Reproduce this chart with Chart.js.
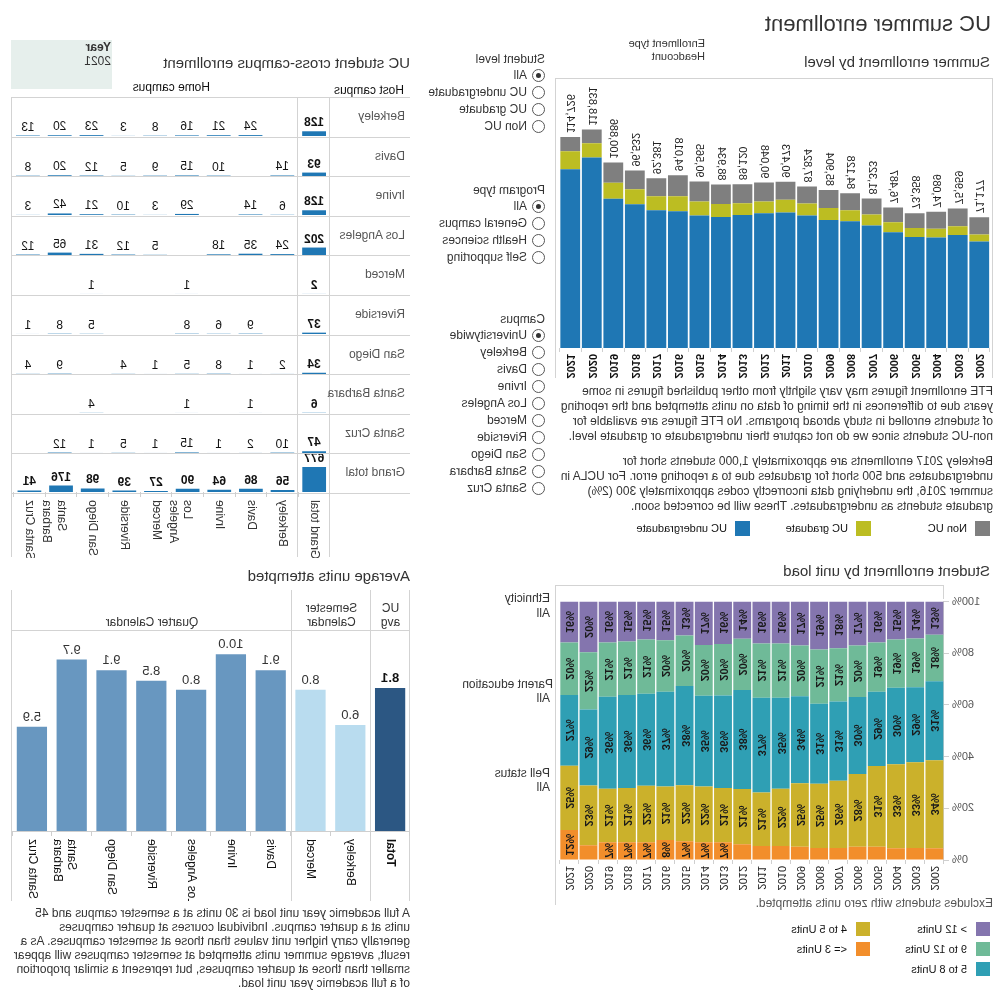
<!DOCTYPE html>
<html>
<head>
<meta charset="utf-8">
<script src="https://cdn.jsdelivr.net/npm/chart.js@4.4.1/dist/chart.umd.min.js"></script>
<style>
  body { margin: 0; background: #fff; font-family: "Liberation Sans", Arial, sans-serif; color: #333; }
  /* the reference is a mirror image of the dashboard, so the whole page is flipped */
  #page { position: relative; width: 1000px; height: 1000px; overflow: hidden; transform: scaleX(-1); }
  .t { position: absolute; white-space: nowrap; }
  .h1 { font-size: 22px; color: #333; }
  .h2 { font-size: 15px; color: #333; line-height: 18px; }
  .s11 { font-size: 11px; line-height: 13px; }
  .s12 { font-size: 12px; line-height: 14px; }
  .note { position: absolute; font-size: 12px; line-height: 15px; color: #333; white-space: nowrap; }
  .line { position: absolute; background: #d3d3d3; }
  .radio { position: absolute; width: 11px; height: 11px; border: 1px solid #555; border-radius: 50%; background: #fff; }
  .radio.on::after { content: ''; position: absolute; left: 3px; top: 3px; width: 5px; height: 5px; border-radius: 50%; background: #333; }
  .sw { position: absolute; width: 15px; height: 15px; }
  canvas { position: absolute; }
</style>
</head>
<body>
<div id="page">
  <div class="t h1" style="left:9px;top:11px">UC summer enrollment</div>
  <div class="t h2" style="left:10px;top:53px">Summer enrollment by level</div>
  <div class="t s11" style="left:295px;top:37px">Enrollment type</div>
  <div class="t s11" style="left:295px;top:50px">Headcount</div>

  <div class="line" style="left:7px;top:78px;width:438px;height:1px"></div>
  <div class="line" style="left:7px;top:78px;width:1px;height:300px"></div>
  <div class="line" style="left:444px;top:78px;width:1px;height:300px"></div>
  <canvas id="levelChart" width="437" height="300" style="left:8px;top:80px"></canvas>

  <div class="note" style="left:7px;top:384px">FTE enrollment figures may vary slightly from other published figures in some<br>years due to differences in the timing of data on units attempted and the reporting<br>of students enrolled in study abroad programs. No FTE figures are available for<br>non-UC students since we do not capture their undergraduate or graduate level.</div>
  <div class="note" style="left:7px;top:454px">Berkeley 2017 enrollments are approximately 1,000 students short for<br>undergraduates and 500 short for graduates due to a reporting error. For UCLA in<br>summer 2016, the underlying data incorrectly codes approximately 300 (2%)<br>graduate students as undergraduates. These will be corrected soon.</div>

  <div class="sw" style="left:10px;top:521px;background:#7f7f7f"></div>
  <div class="t s11" style="left:33px;top:522px;color:#111">Non UC</div>
  <div class="sw" style="left:129px;top:521px;background:#bcbd22"></div>
  <div class="t s11" style="left:152px;top:522px;color:#111">UC graduate</div>
  <div class="sw" style="left:250px;top:521px;background:#1f77b4"></div>
  <div class="t s11" style="left:273px;top:522px;color:#111">UC undergraduate</div>

  <div id="filters"></div>

  <div class="t h2" style="left:10px;top:562px">Student enrollment by unit load</div>
  <div class="line" style="left:56px;top:585px;width:389px;height:1px"></div>
  <div class="line" style="left:444px;top:585px;width:1px;height:320px"></div>
  <div class="line" style="left:56px;top:585px;width:1px;height:14px"></div>
  <canvas id="unitChart" width="446" height="313" style="left:0px;top:592px"></canvas>
  <div class="t s12" style="left:450px;top:591px">Ethnicity</div>
  <div class="t s12" style="left:450px;top:606px">All</div>
  <div class="t s12" style="left:447px;top:677px">Parent education</div>
  <div class="t s12" style="left:450px;top:691px">All</div>
  <div class="t s12" style="left:450px;top:766px">Pell status</div>
  <div class="t s12" style="left:450px;top:780px">All</div>

  <div class="t s12" style="left:7px;top:896px;color:#555">Excludes students with zero units attempted.</div>
  <div class="sw" style="left:10px;top:922px;width:14px;height:14px;background:#8475ae"></div>
  <div class="t s11" style="left:33px;top:923px;color:#111">&gt; 12 Units</div>
  <div class="sw" style="left:10px;top:942px;width:14px;height:14px;background:#6fba98"></div>
  <div class="t s11" style="left:33px;top:943px;color:#111">9 to 12 Units</div>
  <div class="sw" style="left:10px;top:962px;width:14px;height:14px;background:#2f9fb4"></div>
  <div class="t s11" style="left:33px;top:963px;color:#111">5 to 8 Units</div>
  <div class="sw" style="left:130px;top:922px;width:14px;height:14px;background:#cbb12b"></div>
  <div class="t s11" style="left:153px;top:923px;color:#111">4 to 5 Units</div>
  <div class="sw" style="left:130px;top:942px;width:14px;height:14px;background:#f28e2b"></div>
  <div class="t s11" style="left:153px;top:943px;color:#111">&lt;= 3 Units</div>

  <div style="position:absolute;left:888px;top:40px;width:101px;height:49px;background:#e6efec"></div>
  <div class="t s12" style="left:889px;top:40px;font-weight:bold">Year</div>
  <div class="t s12" style="left:889px;top:54px">2021</div>
  <div class="t h2" style="left:590px;top:54px">UC student cross-campus enrollment</div>
  <div class="t s12" style="left:596px;top:83px;color:#111">Host campus</div>
  <div class="t s12" style="left:790px;top:80px;color:#111">Home campus</div>
  <div id="crossTable"></div>

  <div class="t h2" style="left:590px;top:567px">Average units attempted</div>
  <div class="line" style="left:590px;top:590px;width:1px;height:311px"></div>
  <div class="line" style="left:629px;top:590px;width:1px;height:311px"></div>
  <div class="line" style="left:708px;top:590px;width:1px;height:311px"></div>
  <div class="line" style="left:988px;top:590px;width:1px;height:311px"></div>
  <div class="line" style="left:590px;top:630px;width:399px;height:1px"></div>
  <div class="t s12" style="left:590px;width:39px;top:601px;text-align:center">UC<br>avg</div>
  <div class="t s12" style="left:629px;width:79px;top:601px;text-align:center">Semester<br>Calendar</div>
  <div class="t s12" style="left:708px;width:280px;top:615px;text-align:center">Quarter Calendar</div>
  <canvas id="unitsChart" width="398" height="270" style="left:590px;top:631px"></canvas>
  <div class="note" style="left:590px;top:906px;line-height:14px">A full academic year unit load is 30 units at a semester campus and 45<br>units at a quarter campus. Individual courses at quarter campuses<br>generally carry higher unit values than those at semester campuses. As a<br>result, average summer units attempted at semester campuses will appear<br>smaller than those at quarter campuses, but represent a similar proportion<br>of a full academic year unit load.</div>
</div>

<script>
// ---- Summer enrollment by level (headcount) ----
const years = ['2002', '2003', '2004', '2005', '2006', '2007', '2008', '2009', '2010', '2011',
  '2012', '2013', '2014', '2015', '2016', '2017', '2018', '2019', '2020', '2021'];
const ucUndergrad = [58000, 61500, 60050, 60400, 62950, 66700, 68950, 69600, 72100, 73700,
  73250, 72300, 71300, 72150, 74450, 75000, 78200, 81200, 103700, 97226];
const ucGraduate = [3800, 4800, 4870, 4850, 5400, 5950, 5950, 6520, 6500, 7000,
  6500, 6500, 7000, 7600, 8150, 7600, 8100, 8650, 7700, 9800];
const nonUc = [9377, 9659, 9169, 8108, 8137, 8673, 9228, 9784, 9224, 9773,
  10298, 10320, 10634, 10815, 11418, 9781, 10232, 11036, 7431, 7700];
const levelTotals = [71177, 75959, 74089, 73358, 76487, 81323, 84128, 85904, 87824, 90473,
  90048, 89120, 88934, 90565, 94018, 92381, 96532, 100886, 118831, 114726];

// ---- Student enrollment by unit load (% of students) ----
const upTo3 = [4.5, 4.6, 4.5, 5.1, 5.1, 4.6, 4.6, 5.1, 5.4, 5.4, 6.1, 6.9, 6.9, 7.3, 7.7, 6.9, 6.9, 6.9, 5.7, 11.6];
const units4to5 = [34.1, 33.2, 32.6, 31.3, 28.2, 26.1, 24.9, 24.6, 22.2, 20.7, 21.4, 21, 21.5, 21.6, 20.7, 21.8, 21, 20.7, 23.1, 24.9];
const units5to8 = [30.6, 29.1, 29.6, 28.7, 29.8, 30.6, 31, 33.7, 35.2, 36.7, 38.3, 35.8, 35.2, 38.4, 36.7, 35.6, 36, 35.6, 29.4, 27.4];
const units9to12 = [18, 18.8, 18.6, 19.1, 19.9, 20.6, 21, 19.6, 21, 21, 19.8, 19.9, 19.6, 19.6, 19.9, 21, 20.7, 21, 22.2, 20.3];
const over12 = [12.8, 14.3, 14.7, 15.8, 17, 18.1, 18.5, 17, 16.2, 16.2, 14.4, 16.4, 16.8, 13.1, 15, 14.7, 15.4, 15.8, 19.6, 15.8];

// ---- UC student cross-campus enrollment, 2021 ----
const campuses = ['Berkeley', 'Davis', 'Irvine', 'Los Angeles', 'Merced', 'Riverside', 'San Diego', 'Santa Barbara', 'Santa Cruz'];
const campusTicks = ['Berkeley', 'Davis', 'Irvine', ['Los', 'Angeles'], 'Merced', 'Riverside', 'San Diego', ['Santa', 'Barbara'], 'Santa Cruz'];
const hostTotals = [128, 93, 128, 202, 2, 37, 34, 6, 47];
const hostBerkeley = [null, 24, 21, 16, 8, 3, 23, 20, 13];
const hostDavis = [14, null, 10, 15, 9, 5, 12, 20, 8];
const hostIrvine = [6, 14, null, 29, 3, 10, 21, 42, 3];
const hostLosAngeles = [24, 35, 18, null, 5, 12, 31, 65, 12];
const hostMerced = [null, null, null, 1, null, null, 1, null, null];
const hostRiverside = [null, 9, 6, 8, null, null, 5, 8, 1];
const hostSanDiego = [2, 1, 8, 5, 1, 4, null, 9, 4];
const hostSantaBarbara = [null, 1, null, 1, null, null, 4, null, null];
const hostSantaCruz = [10, 2, 1, 15, 1, 5, 1, 12, null];
const homeTotals = [56, 86, 64, 90, 27, 39, 98, 176, 41];
const grandTotal = 677;

// ---- Average units attempted ----
const unitCampuses = ['Total', 'Berkeley', 'Merced', 'Davis', 'Irvine', 'Los Angeles', 'Riverside', 'San Diego', ['Santa', 'Barbara'], 'Santa Cruz'];
const avgUnits = [8.1, 6.0, 8.0, 9.1, 10.0, 8.0, 8.5, 9.1, 9.7, 5.9];
const avgColors = ['#2c5783', '#b9dcef', '#b9dcef', '#6897c0', '#6897c0', '#6897c0', '#6897c0', '#6897c0', '#6897c0', '#6897c0'];

const FONT = '"Liberation Sans", Arial, sans-serif';
Chart.defaults.font.family = FONT;
Chart.defaults.color = '#333';
Chart.defaults.animation = false;
Chart.defaults.plugins.legend.display = false;
Chart.defaults.plugins.tooltip.enabled = false;

// filter panel (radio lists)
const filterGroups = [
  { title: 'Student level', top: 52, items: ['All', 'UC undergraduate', 'UC graduate', 'Non UC'] },
  { title: 'Program type', top: 183, items: ['All', 'General campus', 'Health sciences', 'Self supporting'] },
  { title: 'Campus', top: 312, items: ['Universitywide', ...campuses] },
];
let html = '';
filterGroups.forEach((g) => {
  html += `<div class="t s12" style="left:455px;top:${g.top}px">${g.title}</div>`;
  g.items.forEach((item, i) => {
    const y = g.top + 16 + i * 17;
    html += `<div class="radio${i === 0 ? ' on' : ''}" style="left:455px;top:${y + 1}px"></div>`;
    html += `<div class="t s12" style="left:473px;top:${y}px">${item}</div>`;
  });
});
document.getElementById('filters').innerHTML = html;

// labels drawn on top of the enrollment stacks
const levelTotalLabels = {
  id: 'levelTotalLabels',
  afterDatasetsDraw(chart) {
    const { ctx } = chart;
    const meta = chart.getDatasetMeta(chart.data.datasets.length - 1);
    ctx.save();
    ctx.font = '11px ' + FONT;
    ctx.fillStyle = '#222';
    ctx.textAlign = 'left';
    ctx.textBaseline = 'middle';
    meta.data.forEach((bar, i) => {
      ctx.save();
      ctx.translate(bar.x, bar.y - 4);
      ctx.rotate(-Math.PI / 2);
      ctx.fillText(levelTotals[i].toLocaleString('en-US'), 0, 0);
      ctx.restore();
    });
    ctx.restore();
  },
};

new Chart(document.getElementById('levelChart'), {
  type: 'bar',
  data: {
    labels: years,
    datasets: [
      { label: 'UC undergraduate', data: ucUndergrad, backgroundColor: '#1f77b4' },
      { label: 'UC graduate', data: ucGraduate, backgroundColor: '#bcbd22' },
      { label: 'Non UC', data: nonUc, backgroundColor: '#7f7f7f' },
    ],
  },
  options: {
    responsive: false,
    layout: { padding: { left: 2, right: 2 } },
    datasets: { bar: { barPercentage: 0.92, categoryPercentage: 1 } },
    scales: {
      x: {
        stacked: true,
        grid: { offset: true, drawOnChartArea: false, tickLength: 4, color: '#cfcfcf' },
        border: { display: false },
        ticks: { minRotation: 90, maxRotation: 90, padding: 2, color: '#111', font: { size: 11, weight: 'bold' } },
        afterFit(scale) { scale.height = 32; },
      },
      y: { stacked: true, display: false, min: 0, max: 145800 },
    },
  },
  plugins: [levelTotalLabels],
});

// percentage labels inside the unit load segments
const segmentLabels = {
  id: 'segmentLabels',
  afterDatasetsDraw(chart) {
    const { ctx } = chart;
    ctx.save();
    ctx.font = 'bold 11px ' + FONT;
    ctx.fillStyle = '#1a1a1a';
    ctx.textAlign = 'center';
    ctx.textBaseline = 'middle';
    chart.data.datasets.forEach((ds, di) => {
      chart.getDatasetMeta(di).data.forEach((bar, i) => {
        const v = ds.data[i];
        if (v < 6.5) return;
        ctx.save();
        ctx.translate(bar.x, (bar.y + bar.base) / 2);
        ctx.rotate(-Math.PI / 2);
        ctx.fillText(Math.round(v) + '%', 0, 0);
        ctx.restore();
      });
    });
    ctx.restore();
  },
};

new Chart(document.getElementById('unitChart'), {
  type: 'bar',
  data: {
    labels: years,
    datasets: [
      { label: '<= 3 Units', data: upTo3, backgroundColor: '#f28e2b' },
      { label: '4 to 5 Units', data: units4to5, backgroundColor: '#cbb12b' },
      { label: '5 to 8 Units', data: units5to8, backgroundColor: '#2f9fb4' },
      { label: '9 to 12 Units', data: units9to12, backgroundColor: '#6fba98' },
      { label: '> 12 Units', data: over12, backgroundColor: '#8475ae' },
    ],
  },
  options: {
    responsive: false,
    layout: { padding: { top: 6, right: 2 } },
    datasets: { bar: { barPercentage: 0.93, categoryPercentage: 1 } },
    scales: {
      x: {
        stacked: true,
        grid: { offset: true, drawOnChartArea: false, tickLength: 4, color: '#cfcfcf' },
        border: { display: false },
        ticks: { minRotation: 90, maxRotation: 90, padding: 2, color: '#222', font: { size: 11 } },
        afterFit(scale) { scale.height = 45; },
      },
      y: {
        stacked: true,
        min: 0,
        max: 100,
        grid: { drawOnChartArea: false, tickLength: 5, color: '#cfcfcf' },
        border: { color: '#cfcfcf' },
        ticks: { stepSize: 20, padding: 3, color: '#555', font: { size: 11 }, callback: (v) => v + '%' },
        afterFit(scale) { scale.width = 56; },
      },
    },
  },
  plugins: [segmentLabels],
});

// cross-campus table: one small bar chart per host campus row
const hostRows = [hostBerkeley, hostDavis, hostIrvine, hostLosAngeles, hostMerced,
  hostRiverside, hostSanDiego, hostSantaBarbara, hostSantaCruz];
const rowTop = (i) => 97 + i * 39.6;
let tableHtml = '';
for (let i = 0; i <= 10; i++) {
  tableHtml += `<div class="line" style="left:590px;top:${rowTop(i).toFixed(0)}px;width:398px;height:1px"></div>`;
}
[670, 702, 988].forEach((x) => {
  tableHtml += `<div class="line" style="left:${x}px;top:97px;width:1px;height:460px"></div>`;
});
[...campuses, 'Grand total'].forEach((name, i) => {
  tableHtml += `<div class="t s12" style="left:595px;top:${(rowTop(i) + 12).toFixed(0)}px;color:#555">${name}</div>`;
  const last = i === campuses.length;
  tableHtml += `<canvas id="row${i}" width="318" height="${last ? 104 : 38}" style="left:670px;top:${(rowTop(i) + 1).toFixed(0)}px"></canvas>`;
});
document.getElementById('crossTable').innerHTML = tableHtml;

function cellLabels(boldAll) {
  return {
    id: 'cellLabels',
    afterDatasetsDraw(chart) {
      const { ctx } = chart;
      const values = chart.data.datasets[0].data;
      ctx.save();
      ctx.fillStyle = '#111';
      ctx.textAlign = 'center';
      ctx.textBaseline = 'alphabetic';
      chart.getDatasetMeta(0).data.forEach((bar, i) => {
        if (values[i] == null) return;
        ctx.font = (boldAll || i === 0 ? 'bold ' : '') + '12px ' + FONT;
        ctx.fillText(String(values[i]), bar.x, Math.min(bar.y, bar.base) - 5);
      });
      ctx.restore();
    },
  };
}

function makeRowChart(id, values, withAxis) {
  const x = {
    display: withAxis,
    grid: { offset: true, drawOnChartArea: false, tickLength: 5, color: '#cfcfcf' },
    border: { display: false },
    ticks: { minRotation: 90, maxRotation: 90, padding: 3, color: '#333', font: { size: 12 } },
  };
  if (withAxis) x.afterFit = (scale) => { scale.height = 66; };
  new Chart(document.getElementById(id), {
    type: 'bar',
    data: {
      labels: ['Grand total', ...campusTicks],
      datasets: [{ data: values, backgroundColor: '#1f77b4', barPercentage: 0.75, categoryPercentage: 1 }],
    },
    options: {
      responsive: false,
      scales: { x, y: { display: false, min: 0, max: 1030 } },
    },
    plugins: [cellLabels(withAxis)],
  });
}

hostRows.forEach((row, i) => makeRowChart('row' + i, [hostTotals[i], ...row], false));
makeRowChart('row9', [grandTotal, ...homeTotals], true);

// average units attempted
const unitValueLabels = {
  id: 'unitValueLabels',
  afterDatasetsDraw(chart) {
    const { ctx } = chart;
    ctx.save();
    ctx.textAlign = 'center';
    ctx.textBaseline = 'alphabetic';
    chart.getDatasetMeta(0).data.forEach((bar, i) => {
      ctx.font = (i === 0 ? 'bold ' : '') + '13px ' + FONT;
      ctx.fillStyle = i === 0 ? '#111' : '#333';
      ctx.fillText(avgUnits[i].toFixed(1), bar.x, bar.y - 6);
    });
    ctx.restore();
  },
};

new Chart(document.getElementById('unitsChart'), {
  type: 'bar',
  data: {
    labels: unitCampuses,
    datasets: [{ data: avgUnits, backgroundColor: avgColors, barPercentage: 0.76, categoryPercentage: 1 }],
  },
  options: {
    responsive: false,
    scales: {
      x: {
        grid: { offset: true, drawOnChartArea: false, tickLength: 5, color: '#cfcfcf' },
        border: { color: '#cfcfcf' },
        ticks: {
          minRotation: 90,
          maxRotation: 90,
          padding: 3,
          color: '#111',
          font: (ctx) => (ctx.index === 0 ? { size: 12, weight: 'bold' } : { size: 12 }),
        },
        afterFit(scale) { scale.height = 70; },
      },
      y: { display: false, min: 0, max: 11.32 },
    },
  },
  plugins: [unitValueLabels],
});
</script>
</body>
</html>
